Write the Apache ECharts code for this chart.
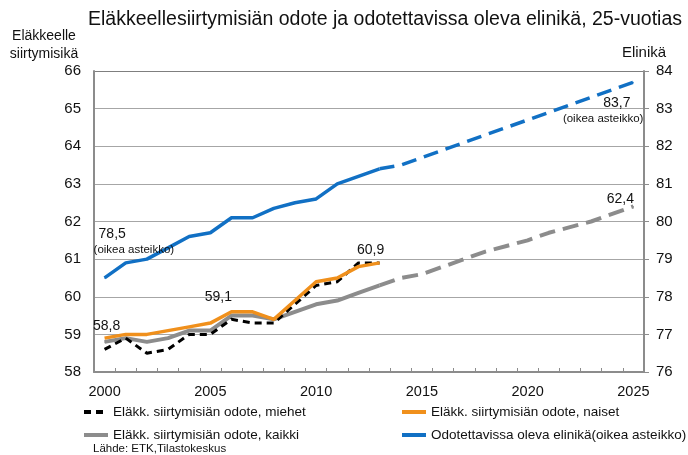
<!DOCTYPE html>
<html>
<head>
<meta charset="utf-8">
<script src="https://cdn.jsdelivr.net/npm/echarts@6/dist/echarts.min.js"></script>
<style>
	html, body { margin: 0; padding: 0; background: #FFFFFF; }
	#chart { width: 688px; height: 455px; }
</style>
</head>
<body>
<div id="chart"></div>
<script>
	// vuodet 2000-2025
	var years = ['2000','2001','2002','2003','2004','2005','2006','2007','2008','2009','2010','2011','2012','2013',
		'2014','2015','2016','2017','2018','2019','2020','2021','2022','2023','2024','2025'];
	// toteutunut 2000-2013
	var miehet = [58.6, 58.9, 58.5, 58.6, 59.0, 59.0, 59.4, 59.3, 59.3, 59.8, 60.3, 60.4, 60.9, 60.9];
	var naiset = [58.9, 59.0, 59.0, 59.1, 59.2, 59.3, 59.6, 59.6, 59.4, 59.9, 60.4, 60.5, 60.8, 60.9];
	var kaikki = [58.8, 58.9, 58.8, 58.9, 59.1, 59.1, 59.5, 59.5, 59.4, 59.6, 59.8, 59.9, 60.1, 60.3];
	var elinika = [78.5, 78.9, 79.0, 79.3, 79.6, 79.7, 80.1, 80.1, 80.35, 80.5, 80.6, 81.0, 81.2, 81.4];
	// ennuste 2013-2025
	var kaikkiEnnuste = [60.3, 60.5, 60.6, 60.8, 61.0, 61.2, 61.35, 61.5, 61.7, 61.85, 62.0, 62.2, 62.4];
	var elinikaEnnuste = [81.4, 81.5, 81.7, 81.9, 82.1, 82.3, 82.5, 82.7, 82.9, 83.1, 83.3, 83.5, 83.7];
	var ennusteAlku = 13;

	var leftTicks = { min: 58, max: 66, interval: 1 };
	var rightTicks = { min: 76, max: 84, interval: 1 };

	var fontName = '"Liberation Sans", Arial, sans-serif';

	function fi(v) {
		return String(v).replace('.', ',');
	}

	// täyttää 26 vuoden sarjan, labels = { indeksi: label }
	function pad(arr, start, labels) {
		var out = [];
		for (var i = 0; i < years.length; i++) {
			var j = i - start;
			var v = (j >= 0 && j < arr.length) ? arr[j] : null;
			if (labels && labels[j] && v !== null) {
				out.push({ value: v, symbol: 'circle', symbolSize: 1, label: labels[j] });
			} else {
				out.push(v);
			}
		}
		return out;
	}

	function numLabel(dist, dx) {
		return {
			show: true, position: 'top', distance: dist, offset: [dx, 0],
			color: '#111', fontSize: 14, fontFamily: fontName,
			formatter: function (p) { return fi(p.value); }
		};
	}

	var richOikea = {
		a: { fontSize: 14, lineHeight: 17, color: '#111', fontFamily: fontName },
		b: { fontSize: 11.5, lineHeight: 14, color: '#111', fontFamily: fontName }
	};

	var chart = echarts.init(document.getElementById('chart'), null, { renderer: 'canvas' });

	var gridColors = ['#a6a6a6','#a6a6a6','#a6a6a6','#a6a6a6','#a6a6a6','#a6a6a6','#a6a6a6','#a6a6a6','#7f7f7f'];

	var legendCommon = {
		orient: 'vertical', top: 400, itemGap: 9,
		itemWidth: 24, itemHeight: 14,
		itemStyle: { opacity: 0 },
		lineStyle: { width: 4 },
		textStyle: { fontSize: 13.5, color: '#111', fontFamily: fontName }
	};

	var option = {
		backgroundColor: '#FFFFFF',
		animation: false,
		title: [{
			text: 'Eläkkeellesiirtymisiän odote ja odotettavissa oleva elinikä, 25-vuotias',
			left: 88, top: 10, padding: 0,
			textStyle: { fontSize: 19.5, fontWeight: 'normal', color: '#111', fontFamily: fontName }
		}, {
			text: 'Lähde: ETK,Tilastokeskus',
			left: 93, top: 443, padding: 0,
			textStyle: { fontSize: 11.5, fontWeight: 'normal', color: '#111', fontFamily: fontName }
		}],
		legend: [
			Object.assign({
				data: ['Eläkk. siirtymisiän odote, miehet', 'Eläkk. siirtymisiän odote, kaikki'],
				left: 77
			}, legendCommon),
			Object.assign({
				data: ['Eläkk. siirtymisiän odote, naiset', 'Odotettavissa oleva elinikä(oikea asteikko)'],
				left: 395
			}, legendCommon)
		],
		grid: {
			left: 94, right: 44, top: 71, bottom: 83,
			containLabel: false, outerBoundsMode: 'none'
		},
		xAxis: {
			type: 'category',
			data: years,
			boundaryGap: true,
			axisLine: { lineStyle: { color: '#8c8c8c', width: 2 } },
			axisTick: { show: true, inside: true, length: 4, interval: 0, lineStyle: { color: '#8c8c8c' } },
			axisLabel: { interval: 4, margin: 12, fontSize: 14.5, color: '#111', fontFamily: fontName },
			splitLine: { show: false }
		},
		yAxis: [{
			type: 'value',
			min: leftTicks.min, max: leftTicks.max, interval: leftTicks.interval,
			name: 'Eläkkeelle\nsiirtymisikä',
			nameLocation: 'end', nameGap: 6,
			nameTextStyle: { fontSize: 14, color: '#111', fontFamily: fontName, align: 'center', padding: [0, 100, 0, 0], lineHeight: 18 },
			axisLine: { show: true, lineStyle: { color: '#8c8c8c', width: 2 } },
			axisTick: { show: false },
			axisLabel: { margin: 13, fontSize: 15, color: '#111', fontFamily: fontName },
			splitLine: { show: true, lineStyle: { color: gridColors, width: 1 } }
		}, {
			type: 'value',
			min: rightTicks.min, max: rightTicks.max, interval: rightTicks.interval,
			name: 'Elinikä',
			nameLocation: 'end', nameGap: 11,
			nameTextStyle: { fontSize: 15, color: '#111', fontFamily: fontName },
			axisLine: { show: true, lineStyle: { color: '#8c8c8c', width: 2 } },
			axisTick: { show: true, length: 5, lineStyle: { color: '#8c8c8c' } },
			axisLabel: { margin: 12, fontSize: 15, color: '#111', fontFamily: fontName },
			splitLine: { show: false }
		}],
		series: [
			{
				name: 'Eläkk. siirtymisiän odote, kaikki',
				type: 'line', symbol: 'none', showSymbol: true,
				color: '#8c8c8c',
				lineStyle: { color: '#8c8c8c', width: 4 },
				data: pad(kaikki, 0, { 0: numLabel(8, 2), 5: numLabel(26, 8) }),
				z: 2
			},
			{
				name: 'kaikki ennuste',
				type: 'line', symbol: 'none', showSymbol: true,
				color: '#8c8c8c',
				lineStyle: { color: '#8c8c8c', width: 4, type: [16, 8] },
				data: pad(kaikkiEnnuste, ennusteAlku, { 12: numLabel(0, -13) }),
				z: 2
			},
			{
				name: 'Eläkk. siirtymisiän odote, miehet',
				type: 'line', symbol: 'none',
				color: '#000000',
				lineStyle: { color: '#000000', width: 3, type: [7, 5] },
				data: pad(miehet, 0),
				z: 3
			},
			{
				name: 'Eläkk. siirtymisiän odote, naiset',
				type: 'line', symbol: 'none', showSymbol: true,
				color: '#f0901c',
				lineStyle: { color: '#f0901c', width: 3.5 },
				data: pad(naiset, 0, { 13: numLabel(5, -9) }),
				z: 4
			},
			{
				name: 'Odotettavissa oleva elinikä(oikea asteikko)',
				type: 'line', yAxisIndex: 1, symbol: 'none', showSymbol: true,
				color: '#1170c4',
				lineStyle: { color: '#1170c4', width: 3.5 },
				data: pad(elinika, 0, { 0: {
					show: true, position: 'top', distance: 0, offset: [-11, -21], align: 'left',
					formatter: function (p) { return '{a|' + fi(p.value) + '}\n{b|(oikea asteikko)}'; },
					rich: { a: Object.assign({ padding: [0, 0, 0, 5] }, richOikea.a), b: richOikea.b }
				} }),
				z: 5
			},
			{
				name: 'elinikä ennuste',
				type: 'line', yAxisIndex: 1, symbol: 'none', showSymbol: true,
				color: '#1170c4',
				lineStyle: { color: '#1170c4', width: 3.5, type: [15, 8] },
				data: pad(elinikaEnnuste, ennusteAlku, { 12: {
					show: true, position: 'bottom', distance: 0, offset: [10, 12], align: 'right',
					formatter: function (p) { return '{a|' + fi(p.value) + '}\n{b|(oikea asteikko)}'; },
					rich: { a: Object.assign({ padding: [0, 13, 0, 0], align: 'right' }, richOikea.a), b: Object.assign({ align: 'right' }, richOikea.b) }
				} }),
				z: 5
			}
		]
	};
	chart.setOption(option);
</script>
</body>
</html>
